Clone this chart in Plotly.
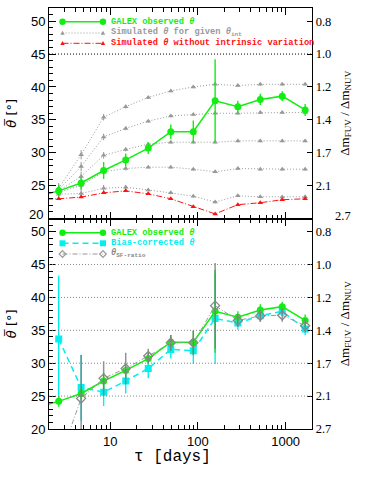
import plotly.graph_objects as go
from plotly.subplots import make_subplots

# time lags (days); first GALEX/red point sits left of the visible range
tau = [2.58, 4.65, 8.4, 15.0, 27.1, 49.0, 88.5, 157, 285, 514, 914, 1670]
tau_ext = [1.43] + tau

galex_theta = [23.3, 24.2, 25.4, 27.3, 28.9, 30.7, 33.2, 33.2, 37.9, 37.0, 38.1, 38.6, 36.5]
galex_err = [0.8, 0.8, 0.9, 1.3, 1.0, 0.9, 1.1, 1.7, 6.3, 0.9, 0.85, 0.75, 0.9]

no_intrinsic = [22.9, 23.0, 23.25, 23.9, 24.2, 23.75, 23.0, 21.8, 20.7, 22.1, 22.4, 22.85, 23.0]

sim_1 = [24.6, 29.7, 35.4, 37.0, 38.4, 39.4, 40.0, 40.4, 40.2, 40.4, 40.4, 40.4]
sim_2 = [24.4, 27.9, 32.4, 33.7, 34.8, 35.6, 35.8, 36.0, 36.0, 36.1, 36.1, 36.1]
sim_3 = [24.2, 26.4, 29.6, 30.5, 31.3, 31.6, 31.6, 31.6, 31.8, 31.8, 31.8, 31.8]
sim_4 = [24.0, 25.0, 27.1, 27.6, 27.8, 27.8, 27.5, 27.1, 27.6, 27.5, 27.5, 27.5]
sim_5 = [23.7, 23.8, 24.6, 24.75, 24.35, 23.9, 23.4, 22.5, 23.45, 23.3, 23.25, 23.3]
sim_err = [0.8, 0.7, 0.5, 0.3, 0.2, 0.2, 0.2, 0.2, 0.2, 0.2, 0.2, 0.2]

bias_corr = [33.7, 26.3, 25.6, 27.3, 29.2, 32.1, 31.9, 36.8, 36.1, 37.2, 37.9, 35.2]
bias_err = [9.6, 5.0, 2.1, 1.9, 1.5, 1.4, 2.0, 6.9, 1.0, 0.9, 0.75, 0.9]

sf_ratio = [15.0, 24.65, 27.7, 29.2, 31.1, 33.1, 33.1, 38.75, 36.5, 37.2, 37.3, 35.7]
sf_err = [3.0, 6.6, 2.6, 2.4, 1.1, 1.2, 1.9, 6.5, 1.0, 0.9, 1.0, 1.0]

theta_ticks = [20, 25, 30, 35, 40, 45, 50]
theta_labels = ['20', '25', '30', '35', '40', '45', '50']
ratio_labels = ['2.7', '2.1', '1.7', '1.4', '1.2', '1.0', '0.8']

GREEN = '#11ee11'
CYAN = '#00f0f0'
RED = '#ff1111'
GRAY = '#999999'
DGRAY = '#888888'

W, H = 374, 477
L, R, T, B = 49, 45, 8, 48

fig = make_subplots(rows=2, cols=1, shared_xaxes=True, vertical_spacing=0,
                    specs=[[{"secondary_y": True}], [{"secondary_y": True}]])

# ---- top panel
for s in [sim_1, sim_2, sim_3, sim_4, sim_5]:
    fig.add_trace(go.Scatter(x=tau, y=s, mode='lines+markers',
                             line=dict(color=GRAY, width=1, dash='1px,2px'),
                             marker=dict(symbol='triangle-up', size=5, color=GRAY),
                             error_y=dict(type='data', array=sim_err, color=GRAY, thickness=1, width=0)),
                  row=1, col=1)
fig.add_trace(go.Scatter(x=tau_ext, y=no_intrinsic, mode='lines+markers',
                         line=dict(color=RED, width=1, dash='6px,2px,1px,2px'),
                         marker=dict(symbol='triangle-up', size=5, color=RED)),
              row=1, col=1)
fig.add_trace(go.Scatter(x=tau_ext, y=galex_theta, mode='lines+markers',
                         line=dict(color=GREEN, width=1.5),
                         marker=dict(symbol='circle', size=7, color=GREEN),
                         error_y=dict(type='data', array=galex_err, color=GREEN, thickness=1.4, width=0)),
              row=1, col=1)

# ---- bottom panel
fig.add_trace(go.Scatter(x=tau, y=bias_corr, mode='lines+markers',
                         line=dict(color=CYAN, width=1.5, dash='6px,4px'),
                         marker=dict(symbol='square', size=7, color=CYAN),
                         error_y=dict(type='data', array=bias_err, color=CYAN, thickness=1.4, width=0)),
              row=2, col=1)
fig.add_trace(go.Scatter(x=tau_ext, y=galex_theta, mode='lines+markers',
                         line=dict(color=GREEN, width=1.5),
                         marker=dict(symbol='circle', size=7, color=GREEN),
                         error_y=dict(type='data', array=galex_err, color=GREEN, thickness=1.4, width=0)),
              row=2, col=1)
fig.add_trace(go.Scatter(x=tau, y=sf_ratio, mode='lines+markers',
                         line=dict(color=GRAY, width=1, dash='5px,2px,1px,2px'),
                         marker=dict(symbol='diamond-open', size=7, color=DGRAY, line=dict(width=1.3)),
                         error_y=dict(type='data', array=sf_err, color='rgba(120,120,120,0.8)', thickness=1.5, width=0)),
              row=2, col=1)

# empty traces so the right-hand axes get drawn
for r in [1, 2]:
    fig.add_trace(go.Scatter(x=[None], y=[None], hoverinfo='skip', showlegend=False),
                  row=r, col=1, secondary_y=True)

fig.add_hline(y=45, row=1, col=1, line=dict(color='black', width=1, dash='1px,2px'))
for v in [25, 30, 35, 40, 45]:
    fig.add_hline(y=v, row=2, col=1, line=dict(color=DGRAY, width=1, dash='1px,2px'))

# ---- legends drawn by hand (tight spacing like the original)
def px_x(p):
    return (p - L) / (W - L - R)

def px_y(p):
    return 1 - (p - T) / (H - T - B)

def sym_shape(kind, cx, cy, color):
    base = dict(xref='paper', yref='paper', xsizemode='pixel', ysizemode='pixel',
                xanchor=px_x(cx), yanchor=px_y(cy), layer='above')
    if kind == 'circle':
        return dict(type='circle', x0=-3.2, x1=3.2, y0=-3.2, y1=3.2,
                    fillcolor=color, line=dict(width=0), **base)
    if kind == 'square':
        return dict(type='rect', x0=-3, x1=3, y0=-3, y1=3,
                    fillcolor=color, line=dict(width=0), **base)
    if kind == 'triangle':
        return dict(type='path', path='M -2.2,-1.8 L 2.2,-1.8 L 0,2.2 Z',
                    fillcolor=color, line=dict(width=0), **base)
    return dict(type='path', path='M 0,3.3 L 3.3,0 L 0,-3.3 L -3.3,0 Z',
                line=dict(color=color, width=1.2), **base)

legend_rows = [
    (21.7, GREEN, 'solid', 1.5, 'circle', 'GALEX observed <i>θ</i>', GREEN),
    (33.0, GRAY, '1px,2px', 1, 'triangle', 'Simulated <i>θ</i> for given <i>θ</i><sub>int</sub>', GRAY),
    (43.3, RED, '6px,2px,1px,2px', 1, 'triangle', 'Simulated <i>θ</i> without intrinsic variation', RED),
    (232.7, GREEN, 'solid', 1.5, 'circle', 'GALEX observed <i>θ</i>', GREEN),
    (243.3, CYAN, '6px,4px', 1.5, 'square', 'Bias-corrected <i>θ</i>', CYAN),
    (254.0, GRAY, '5px,2px,1px,2px', 1, 'diamond', '<i>θ</i><sub>SF-ratio</sub>', DGRAY),
]
shapes = []
annos = []
for py, col, dash, lw, sym, txt, tcol in legend_rows:
    shapes.append(dict(type='line', xref='paper', yref='paper',
                       x0=px_x(62.5), x1=px_x(103), y0=px_y(py), y1=px_y(py),
                       line=dict(color=col, width=lw, dash=dash), layer='above'))
    shapes.append(sym_shape(sym, 62.5, py, col))
    shapes.append(sym_shape(sym, 103, py, col))
    annos.append(dict(xref='paper', yref='paper', x=px_x(109), y=px_y(py),
                      xanchor='left', yanchor='middle', showarrow=False, text=txt,
                      font=dict(family='Liberation Mono', size=8.7, color=tcol, weight='bold')))

# x title sits a bit left of the axis centre in the original
annos.append(dict(xref='paper', yref='paper', x=px_x(172.5), y=px_y(457), xanchor='center',
                  yanchor='middle', showarrow=False, text='τ [days]',
                  font=dict(family='Liberation Mono', size=16, color='black')))

# lowest labels of the top panel are nudged up so they clear the bottom panel's top labels
annos.append(dict(xref='paper', yref='paper', x=px_x(45), y=px_y(214.5), xanchor='right',
                  yanchor='middle', showarrow=False, text=theta_labels[0],
                  font=dict(family='Liberation Sans', size=13, color='black')))
annos.append(dict(xref='paper', yref='paper', x=px_x(333), y=px_y(215.5), xanchor='left',
                  yanchor='middle', showarrow=False, text=ratio_labels[0],
                  font=dict(family='Liberation Serif', size=12.5, color='black')))

fig.update_layout(shapes=list(fig.layout.shapes) + shapes, annotations=annos)

# ---- axes
fig.update_xaxes(type='log', range=[0.301, 3.303], showline=True, linecolor='black', linewidth=1,
                 mirror='ticks', ticks='inside', ticklen=7, tickcolor='black', automargin=False,
                 tickvals=[10, 100, 1000], ticktext=['10', '100', '1000'], showgrid=False,
                 minor=dict(ticks='inside', ticklen=4, tickcolor='black',
                            tickvals=[2, 3, 4, 5, 6, 7, 8, 9, 20, 30, 40, 50, 60, 70, 80, 90,
                                      200, 300, 400, 500, 600, 700, 800, 900, 2000]),
                 zeroline=False)
fig.update_xaxes(showticklabels=False, row=1, col=1)
fig.update_xaxes(tickfont=dict(family='Liberation Sans', size=13), row=2, col=1)

fig.update_yaxes(range=[20, 52], showline=True, linecolor='black', linewidth=1, mirror=False,
                 ticks='inside', ticklen=7, tickcolor='black', tickvals=theta_ticks,
                 ticktext=theta_labels, showgrid=False,
                 minor=dict(ticks='inside', ticklen=3.5, dtick=1, tick0=20, tickcolor='black'),
                 tickfont=dict(family='Liberation Sans', size=13), zeroline=False, automargin=False,
                 title=dict(text='<i>θ\u0305</i> [°]', font=dict(family='DejaVu Sans', size=13), standoff=11),
                 secondary_y=False)
fig.update_yaxes(range=[20, 52], showline=True, linecolor='black', linewidth=1, automargin=False,
                 ticks='inside', ticklen=5, tickcolor='black', tickvals=theta_ticks, ticktext=ratio_labels,
                 showgrid=False, zeroline=False,
                 tickfont=dict(family='Liberation Serif', size=12.5),
                 title=dict(text='Δm<sub>FUV</sub> / Δm<sub>NUV</sub>',
                            font=dict(family='Liberation Serif', size=13), standoff=8),
                 secondary_y=True)
fig.update_yaxes(ticktext=[''] + theta_labels[1:], row=1, col=1, secondary_y=False)
fig.update_yaxes(ticktext=[''] + ratio_labels[1:], row=1, col=1, secondary_y=True)

fig.update_layout(width=W, height=H, margin=dict(l=L, r=R, t=T, b=B),
                  paper_bgcolor='white', plot_bgcolor='white', showlegend=False,
                  font=dict(family='Liberation Sans', color='black'))

# page body has a default 8px margin; drop it so the figure fills the window
fig.write_html("out.html", config={'displayModeBar': False},
               post_script="document.body.style.margin='0';")
